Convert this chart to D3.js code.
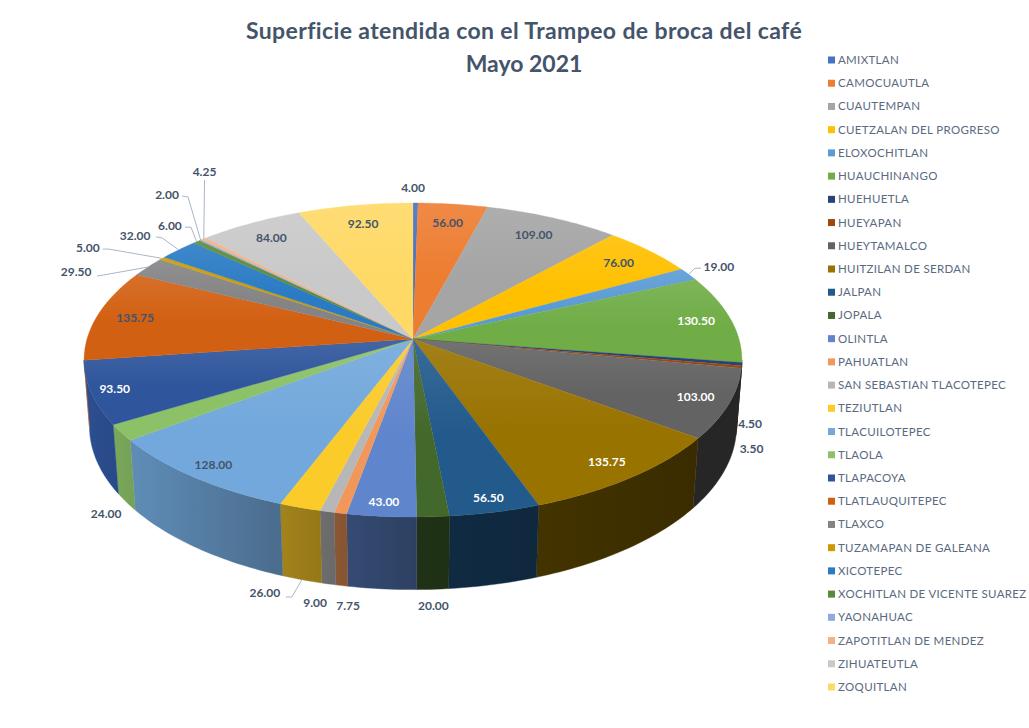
<!DOCTYPE html>
<html><head><meta charset="utf-8">
<script src="https://cdn.jsdelivr.net/npm/d3@7/dist/d3.min.js"></script>
<style>html,body{margin:0;padding:0;background:#fff;overflow:hidden}svg{display:block}text{font-family:Lato,"Open Sans",sans-serif}</style>
</head><body><svg id="c" width="1029" height="728"></svg>
<script>
const titleLines = ["Superficie atendida con el Trampeo de broca del café", "Mayo 2021"];
const municipios = ["AMIXTLAN","CAMOCUAUTLA","CUAUTEMPAN","CUETZALAN DEL PROGRESO","ELOXOCHITLAN","HUAUCHINANGO","HUEHUETLA","HUEYAPAN","HUEYTAMALCO","HUITZILAN DE SERDAN","JALPAN","JOPALA","OLINTLA","PAHUATLAN","SAN SEBASTIAN TLACOTEPEC","TEZIUTLAN","TLACUILOTEPEC","TLAOLA","TLAPACOYA","TLATLAUQUITEPEC","TLAXCO","TUZAMAPAN DE GALEANA","XICOTEPEC","XOCHITLAN DE VICENTE SUAREZ","YAONAHUAC","ZAPOTITLAN DE MENDEZ","ZIHUATEUTLA","ZOQUITLAN"];
const superficie = [4,56,109,76,19,130.5,4.5,3.5,103,135.75,56.5,20,43,7.75,9,26,128,24,93.5,135.75,29.5,5,32,6,2,4.25,84,92.5];
const palette = ["#4472C4","#ED7D31","#A5A5A5","#FFC000","#5B9BD5","#70AD47","#264478","#9E480E","#636363","#997300","#225A8C","#43682B","#5F85CC","#F1975A","#B7B7B7","#FBCB2A","#72A8DB","#8CC168","#2F559C","#D26012","#848484","#CC9A00","#2A7BC4","#5A8A39","#8FAADC","#F4B183","#C9C9C9","#FFD966"];
// label placement: radial factor in the pie plane, and angular shift in degrees from the slice middle
const labelRadius = [1.13,.85,.85,.86,1.117,.89,1.09,1.15,.9,.9,.93,1.407,.93,1.415,1.414,1.40,.92,1.28,.93,.88,1.19,1.258,1.19,1.158,1.372,1.471,.86,.85];
const labelShift  = [-.5,0,0,0,0,0,18.7,24.3,0,0,0,1,0,-4.6,-3.3,-2.2,0,-16.2,0,0,-7.1,-3.6,-.7,.9,6.5,14.1,0,0];
const whiteLabels = new Set([5,8,9,10,12,18]);
const leaderSlices = [4,15,20,21,22,23,24,25];

const svg = d3.select("#c"), defs = svg.append("defs");
const CX=413, CY=339, B=326, A=154.2, K=.1338, M=.0165, D=67;
const project=(ang,r,z=0)=>{const u=r*Math.sin(ang),v=-r*Math.cos(ang),s=1/(1-K*v+M*z);return [CX+B*u*s, CY+(A*v+D*z)*s];};
const rad=d=>d*Math.PI/180, deg=r=>r*180/Math.PI;
const arcs=d3.pie().sort(null).value(d=>d)(superficie);
const line=d3.line();
const sample=(a0,a1,r,z)=>{const n=Math.max(2,Math.ceil((a1-a0)/rad(1)));return d3.range(n+1).map(i=>project(a0+(a1-a0)*i/n,r,z));};
const shade=d3.scaleLinear().domain([130,180,200,240,270]).range([.38,.48,.64,.88,.95]).clamp(true);
const dim=(c,f)=>{const q=d3.rgb(c);return d3.rgb(q.r*f,q.g*f,q.b*f).formatHex();};

// side walls
const walls=svg.append("g");
arcs.forEach((d,i)=>{
  const a0=Math.max(d.startAngle,rad(97.7)),a1=Math.min(d.endAngle,rad(262.3));
  if(a1<=a0) return;
  const top=sample(a0,a1,1,0),bot=sample(a0,a1,1,1).reverse();
  const id="w"+i, g=defs.append("linearGradient").attr("id",id).attr("gradientUnits","userSpaceOnUse")
    .attr("x1",top[0][0]).attr("x2",top[top.length-1][0]).attr("y1",0).attr("y2",0);
  g.append("stop").attr("offset",0).attr("stop-color",dim(palette[i],shade(deg(a0))));
  g.append("stop").attr("offset",1).attr("stop-color",dim(palette[i],shade(deg(a1))));
  walls.append("path").attr("d",line(top.concat(bot))+"Z").attr("fill",`url(#${id})`).attr("stroke",`url(#${id})`).attr("stroke-width",.4);
});
// top face
const tops=svg.append("g");
arcs.forEach((d,i)=>{
  const id="t"+i, g=defs.append("linearGradient").attr("id",id).attr("x1",0).attr("x2",0).attr("y1",0).attr("y2",1);
  g.append("stop").attr("offset",0).attr("stop-color",d3.interpolateRgb(palette[i],"#fff")(.1));
  g.append("stop").attr("offset",.55).attr("stop-color",palette[i]);
  g.append("stop").attr("offset",1).attr("stop-color",palette[i]);
  tops.append("path").attr("d",line([[CX,CY]].concat(sample(d.startAngle,d.endAngle,1,0)))+"Z")
    .attr("fill",`url(#${id})`).attr("stroke",palette[i]).attr("stroke-width",.3);
});
// data labels
const labelPos=arcs.map((d,i)=>project((d.startAngle+d.endAngle)/2+rad(labelShift[i]),labelRadius[i]));
const leaders=svg.append("g").attr("fill","none").attr("stroke","#A9B6C8").attr("stroke-width",1);
leaderSlices.forEach(i=>{
  const d=arcs[i], mid=(d.startAngle+d.endAngle)/2, [lx,ly]=labelPos[i];
  const rim=project(mid,1,i===15?1:0);
  let pts;
  if(i===25) pts=[rim,[lx,ly+8]];
  else{
    const side=rim[0]>lx?1:-1, hw=i===4?17:(superficie[i]%1||superficie[i]>9?20:14);
    pts=[rim,[lx+side*(hw+7),ly+(i===15?4:i===24?2:i===23?1:i===22?2:i===21?1:i===20?3:i===4?1:0)],[lx+side*(hw+1),ly+(i===15?4:i===20?4:1)]];
  }
  leaders.append("path").attr("d",line(pts));
});
svg.append("g").selectAll("text").data(arcs).join("text")
  .attr("x",(d,i)=>labelPos[i][0]).attr("y",(d,i)=>labelPos[i][1]).attr("dy",".35em")
  .attr("text-anchor","middle").attr("font-size",12).attr("font-weight",700)
  .attr("fill",(d,i)=>whiteLabels.has(i)?"#fff":"#44546A")
  .text(d=>d3.format(".2f")(d.value));
// title
svg.append("g").selectAll("text").data(titleLines).join("text")
  .attr("x",524).attr("y",(d,i)=>39+i*33).attr("text-anchor","middle")
  .attr("font-size",23).attr("font-weight",700).attr("fill","#44546A")
  .attr("letter-spacing",(d,i)=>i===0?.38:0).text(d=>d);
// legend
const ly=d3.scalePoint().domain(municipios).range([60,687]);
const leg=svg.append("g").selectAll("g").data(municipios).join("g").attr("transform",d=>`translate(828,${ly(d)})`);
leg.append("rect").attr("x",0).attr("y",-3.5).attr("width",7).attr("height",7).attr("fill",(d,i)=>palette[i]);
leg.append("text").attr("x",10).attr("dy",".35em").attr("font-size",11.5).attr("letter-spacing",.33).attr("fill","#5A6A80").text(d=>d);
</script></body></html>
